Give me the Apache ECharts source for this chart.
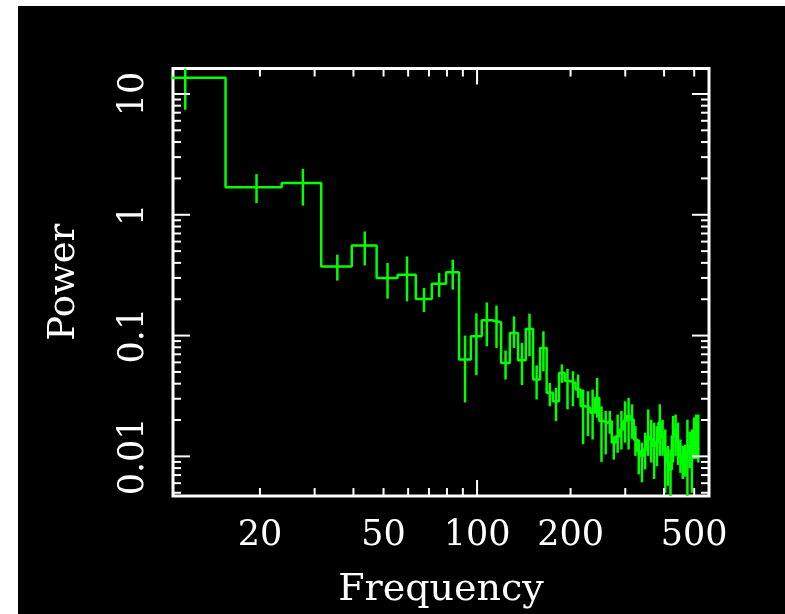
<!DOCTYPE html>
<html><head><meta charset="utf-8">
<script src="https://cdn.jsdelivr.net/npm/echarts@6/dist/echarts.min.js"></script>
<style>
html,body{margin:0;padding:0;background:#fff;width:785px;height:614px;overflow:hidden}
#chart{position:absolute;left:18px;top:6px;width:767px;height:608px}
</style>
</head><body><div id="chart"></div>
<script>
// Bin centres (Hz); each bin is 2*binHalfWidth wide
const freq = [11.5,19.5,27.5,35.5,43.5,51.5,59.5,67.5,75.5,83.5,91.5,99.5,107.5,115.5,123.5,131.5,
  139.5,147.5,155.5,163.5,171.5,179.5,187.5,195.5,203.5,211.5,219.5,227.5,235.5,243.5,251.5,259.5,
  267.5,275.5,283.5,291.5,299.5,307.5,315.5,323.5,331.5,339.5,347.5,355.5,363.5,371.5,379.5,387.5,
  395.5,403.5,411.5,419.5,427.5,435.5,443.5,451.5,459.5,467.5,475.5,483.5,491.5,499.5,507.5,515.5];
const binHalfWidth = 4;
const power = [13.6,1.69,1.83,0.374,0.558,0.300,0.319,0.201,0.269,0.334,0.0633,0.0986,0.134,0.129,0.0594,0.105,
  0.0625,0.1135,0.0433,0.079,0.0336,0.0286,0.049,0.042,0.0406,0.0358,0.026,0.0252,0.023,0.0305,0.0196,0.019,
  0.0196,0.013,0.0147,0.0167,0.0196,0.0216,0.0202,0.0138,0.0111,0.0101,0.0114,0.0145,0.0138,0.0122,0.013,0.019,
  0.0147,0.0114,0.0089,0.0078,0.0147,0.0167,0.013,0.0101,0.0089,0.0094,0.0107,0.0122,0.0114,0.0157,0.0178,0.0114];
const errLow = [7.4,1.25,1.19,0.285,0.381,0.202,0.192,0.157,0.209,0.240,0.028,0.047,0.0816,0.079,0.0433,0.079,
  0.039,0.0675,0.0296,0.0507,0.026,0.0196,0.0406,0.0245,0.026,0.0305,0.0126,0.0147,0.0138,0.0209,0.009,0.0104,
  0.0154,0.0094,0.0107,0.0114,0.013,0.0114,0.014,0.0101,0.0071,0.0061,0.0078,0.0101,0.0089,0.0065,0.0083,0.0101,
  0.0101,0.005,0.0057,0.0045,0.0089,0.0101,0.0085,0.0073,0.0065,0.0068,0.0045,0.008,0.005,0.0095,0.0095,0.0089];
const errHigh = [19.8,2.17,2.40,0.467,0.728,0.399,0.452,0.248,0.330,0.425,0.100,0.153,0.188,0.177,0.0752,0.144,
  0.087,0.152,0.0565,0.1086,0.0406,0.037,0.0577,0.053,0.0507,0.0476,0.0358,0.0346,0.0358,0.0447,0.026,0.0238,
  0.0238,0.0147,0.0222,0.0238,0.0286,0.0305,0.027,0.0178,0.0138,0.013,0.0157,0.0245,0.0201,0.019,0.0178,0.027,
  0.0201,0.0167,0.0122,0.0114,0.0216,0.0222,0.019,0.0138,0.0122,0.0125,0.0201,0.016,0.0167,0.021,0.0222,0.0222];

const xRange = [10.5, 558];
const yRange = [0.0047, 16.25];
const xMajorTicks = [100];
const xMinorTicks = [20,30,40,50,60,70,80,90,200,300,400,500];
const xTickLabels = ['20','50','100','200','500'];
const xTickLabelValues = [20,50,100,200,500];
const yMajorTicks = [0.01,0.1,1,10];
const yMinorTicks = [0.005,0.006,0.007,0.008,0.009,0.02,0.03,0.04,0.05,0.06,0.07,0.08,0.09,
  0.2,0.3,0.4,0.5,0.6,0.7,0.8,0.9,2,3,4,5,6,7,8,9];
const yTickLabels = ['0.01','0.1','1','10'];
const yTickLabelValues = [0.01,0.1,1,10];

const GREEN = '#00ff00';
const FONT = '"DejaVu Serif", "Liberation Serif", serif';

// step outline: each bin drawn from its lower to its upper edge
const stepData = [];
freq.forEach((f, i) => {
  stepData.push([f - binHalfWidth, power[i]]);
  stepData.push([f + binHalfWidth, power[i]]);
});
const errData = freq.map((f, i) => [f, errLow[i], errHigh[i]]);

const chart = echarts.init(document.getElementById('chart'), null, {renderer: 'canvas'});

function clampY(y, cs) { return Math.max(cs.y, Math.min(cs.y + cs.height, y)); }

chart.setOption({
  backgroundColor: '#000',
  animation: false,
  grid: {left: 155, top: 62.5, width: 536, height: 428, show: true,
         borderColor: '#fff', borderWidth: 3, backgroundColor: 'transparent'},
  xAxis: {type: 'log', logBase: 10, min: xRange[0], max: xRange[1],
    axisLine: {show: false}, axisTick: {show: false}, axisLabel: {show: false}, splitLine: {show: false},
    name: 'Frequency', nameLocation: 'middle', nameGap: 94,
    nameTextStyle: {color: '#fff', fontFamily: FONT, fontSize: 38, verticalAlign: 'middle'}},
  yAxis: {type: 'log', logBase: 10, min: yRange[0], max: yRange[1],
    axisLine: {show: false}, axisTick: {show: false}, axisLabel: {show: false}, splitLine: {show: false},
    name: 'Power', nameLocation: 'middle', nameGap: 109,
    nameTextStyle: {color: '#fff', fontFamily: FONT, fontSize: 37, verticalAlign: 'middle'}},
  series: [
    {type: 'line', data: stepData, symbol: 'none', clip: true,
     lineStyle: {color: GREEN, width: 2.5}, z: 3},
    {type: 'custom', data: errData, encode: {x: 0, y: [1, 2]}, z: 3,
     renderItem: function (params, api) {
       const cs = params.coordSys;
       const p1 = api.coord([api.value(0), api.value(1)]);
       const p2 = api.coord([api.value(0), api.value(2)]);
       return {type: 'line', shape: {x1: p1[0], y1: clampY(p1[1], cs), x2: p2[0], y2: clampY(p2[1], cs)},
               style: {stroke: GREEN, lineWidth: 2.5}};
     }},
    {type: 'custom', z: 4,
     data: xMajorTicks.map(v => [v, 1, 1]).concat(xMinorTicks.map(v => [v, 1, 0])),
     encode: {x: 0, y: 1},
     renderItem: function (params, api) {
       const cs = params.coordSys;
       const x = api.coord([api.value(0), 1])[0];
       const len = api.value(2) ? 16 : 8;
       const b = cs.y + cs.height;
       return {type: 'group', children: [
         {type: 'line', shape: {x1: x, y1: b, x2: x, y2: b - len}, style: {stroke: '#fff', lineWidth: 2}},
         {type: 'line', shape: {x1: x, y1: cs.y, x2: x, y2: cs.y + len}, style: {stroke: '#fff', lineWidth: 2}}
       ]};
     }},
    {type: 'custom', z: 4,
     data: yMajorTicks.map(v => [100, v, 1]).concat(yMinorTicks.map(v => [100, v, 0])),
     encode: {x: 0, y: 1},
     renderItem: function (params, api) {
       const cs = params.coordSys;
       const y = api.coord([100, api.value(1)])[1];
       const len = api.value(2) ? 17 : 8;
       const r = cs.x + cs.width;
       return {type: 'group', children: [
         {type: 'line', shape: {x1: cs.x, y1: y, x2: cs.x + len, y2: y}, style: {stroke: '#fff', lineWidth: 2}},
         {type: 'line', shape: {x1: r, y1: y, x2: r - len, y2: y}, style: {stroke: '#fff', lineWidth: 2}}
       ]};
     }},
    {type: 'custom', z: 4,
     data: xTickLabelValues.map(v => [v, 1]),
     encode: {x: 0, y: 1},
     renderItem: function (params, api) {
       const cs = params.coordSys;
       const x = api.coord([api.value(0), 1])[0];
       return {type: 'text', x: x, y: cs.y + cs.height + 40,
         style: {text: xTickLabels[params.dataIndex], fill: '#fff', font: '35px ' + FONT,
                 align: 'center', verticalAlign: 'middle'}};
     }},
    {type: 'custom', z: 4,
     data: yTickLabelValues.map(v => [100, v]),
     encode: {x: 0, y: 1},
     renderItem: function (params, api) {
       const cs = params.coordSys;
       const y = api.coord([100, api.value(1)])[1];
       return {type: 'text', x: cs.x - 39, y: y, rotation: Math.PI / 2,
         style: {text: yTickLabels[params.dataIndex], fill: '#fff', font: '35px ' + FONT,
                 align: 'center', verticalAlign: 'middle'}};
     }}
  ]
});
</script>
</body></html>
